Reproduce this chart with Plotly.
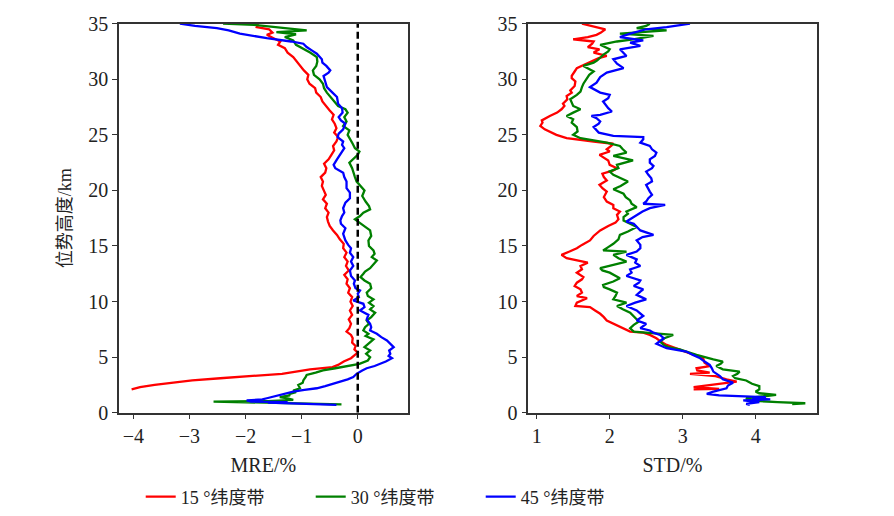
import plotly.graph_objects as go
from plotly.subplots import make_subplots

# ---- MRE (%) vs geopotential height (km) ----
h_mre15 = [2.1, 2.3, 2.5, 2.7, 2.9, 3.1, 3.3, 3.5, 3.7, 3.9, 4.1, 4.3, 4.6, 4.9, 5.2, 5.4, 5.7, 6.0, 6.3, 6.7,
           7.0, 7.3, 7.6, 8.0, 8.4, 8.8, 9.2, 9.6, 10.0, 10.4, 10.8, 11.2, 11.6, 12.0, 12.4, 12.8, 13.2, 13.6, 14.0, 14.4,
           14.8, 15.2, 15.6, 16.0, 16.4, 16.8, 17.2, 17.6, 18.0, 18.4, 18.8, 19.2, 19.6, 20.0, 20.4, 20.8, 21.2, 21.6, 22.0, 22.4,
           22.8, 23.2, 23.6, 24.0, 24.4, 24.8, 25.2, 25.6, 26.0, 26.4, 26.8, 27.2, 27.6, 28.0, 28.4, 28.8, 29.2, 29.6, 30.0, 30.4,
           30.8, 31.2, 31.6, 32.0, 32.4, 32.8, 33.1, 33.4, 33.7, 34.0, 34.2, 34.5, 34.7, 35.0]
mre15 = [-4.03, -3.88, -3.62, -3.3, -2.95, -2.45, -1.9, -1.35, -1.1, -0.85, -0.45, -0.35, -0.25, -0.12, -0.05, 0.0, -0.06, -0.04, -0.10, -0.09,
         -0.12, -0.20, -0.15, -0.12, -0.16, -0.10, -0.14, -0.09, -0.13, -0.10, -0.17, -0.14, -0.20, -0.18, -0.24, -0.16, -0.21, -0.18, -0.24, -0.20,
         -0.26, -0.25, -0.32, -0.37, -0.44, -0.50, -0.53, -0.55, -0.52, -0.58, -0.55, -0.62, -0.57, -0.60, -0.64, -0.62, -0.66, -0.58, -0.56, -0.60,
         -0.52, -0.47, -0.42, -0.44, -0.38, -0.35, -0.42, -0.38, -0.41, -0.46, -0.43, -0.50, -0.57, -0.63, -0.66, -0.74, -0.76, -0.86, -0.90, -0.88,
         -0.96, -1.02, -1.08, -1.15, -1.25, -1.30, -1.42, -1.38, -1.50, -1.62, -1.52, -1.58, -1.80, -1.78]

h_mre30 = [0.75, 0.85, 0.95, 1.0, 1.05, 1.15, 1.3, 1.4, 1.55, 1.7, 1.85, 2.0, 2.2, 2.5, 2.7, 2.9, 3.2, 3.4, 3.6, 3.8,
           4.0, 4.2, 4.4, 4.7, 5.0, 5.3, 5.6, 5.9, 6.2, 6.6, 6.9, 7.1, 7.4, 7.7, 8.0, 8.3, 8.6, 9.0, 9.3, 9.6,
           9.9, 10.2, 10.5, 10.8, 11.2, 11.6, 11.9, 12.2, 12.5, 12.7, 13.0, 13.4, 13.7, 14.0, 14.3, 14.6, 15.0, 15.5, 15.9, 16.4,
           16.8, 17.1, 17.4, 17.7, 18.0, 18.3, 18.6, 19.0, 19.5, 20.0, 20.4, 20.8, 21.2, 21.6, 22.0, 22.5, 22.9, 23.2, 23.5, 23.8,
           24.2, 24.6, 25.0, 25.4, 25.8, 26.2, 26.6, 27.0, 27.3, 27.6, 28.0, 28.4, 28.8, 29.2, 29.6, 30.0, 30.4, 30.8, 31.2, 31.6,
           32.0, 32.4, 32.8, 33.1, 33.5, 33.8, 34.05, 34.25, 34.4, 34.6, 34.75, 34.9, 35.0]
mre30 = [-0.29, -1.3, -1.9, -2.57, -1.6, -1.15, -1.25, -1.39, -1.22, -1.21, -1.10, -1.15, -1.03, -1.06, -0.98, -0.97, -0.93, -0.91, -0.75, -0.62,
         -0.40, -0.20, 0.03, 0.18, 0.22, 0.15, 0.22, 0.12, 0.19, 0.28, 0.14, 0.19, 0.10, 0.13, 0.20, 0.16, 0.24, 0.31, 0.22, 0.28,
         0.20, 0.28, 0.18, 0.16, 0.24, 0.22, 0.12, 0.05, 0.10, 0.13, 0.22, 0.28, 0.34, 0.25, 0.30, 0.28, 0.20, 0.19, 0.24, 0.22,
         0.12, 0.04, -0.05, 0.04, 0.10, 0.22, 0.20, 0.14, 0.08, 0.12, 0.05, -0.02, -0.05, -0.07, -0.10, -0.15, -0.06, 0.0, 0.03, -0.05,
         -0.09, -0.14, -0.18, -0.15, -0.26, -0.20, -0.24, -0.18, -0.22, -0.35, -0.42, -0.48, -0.55, -0.60, -0.62, -0.68, -0.78, -0.80, -0.74, -0.72,
         -0.73, -0.85, -1.0, -1.10, -1.15, -1.30, -1.10, -1.45, -0.91, -1.30, -1.55, -1.85, -2.40]

h_mre45 = [0.7, 0.8, 0.9, 0.95, 1.0, 1.1, 1.2, 1.3, 1.45, 1.6, 1.75, 1.9, 2.05, 2.2, 2.4, 2.6, 2.8, 3.0, 3.2, 3.5,
           3.8, 4.0, 4.2, 4.4, 4.6, 4.9, 5.1, 5.3, 5.6, 5.9, 6.2, 6.5, 6.8, 7.1, 7.4, 7.7, 8.0, 8.4, 8.8, 9.2,
           9.5, 9.8, 10.1, 10.4, 10.7, 11.0, 11.2, 11.6, 11.9, 12.3, 12.8, 13.2, 13.6, 14.0, 14.4, 14.8, 15.1, 15.5, 16.1, 16.6,
           17.0, 17.3, 17.7, 18.0, 18.4, 18.9, 19.3, 19.8, 20.2, 20.8, 21.2, 21.6, 22.0, 22.3, 22.8, 23.3, 23.8, 24.1, 24.4, 24.8,
           25.1, 25.5, 26.0, 26.3, 26.6, 27.0, 27.4, 27.8, 28.4, 28.8, 29.3, 29.8, 30.3, 30.6, 30.8, 31.2, 31.5, 31.8, 32.3, 32.6,
           32.9, 33.2, 33.4, 33.7, 33.9, 34.1, 34.4, 34.6, 34.8, 35.0]
mre45 = [-0.38, -1.0, -1.6, -1.25, -1.9, -1.98, -1.7, -1.62, -1.50, -1.39, -1.28, -1.15, -0.95, -0.73, -0.58, -0.44, -0.28, -0.18, -0.08, -0.02,
         0.08, 0.16, 0.30, 0.40, 0.50, 0.61, 0.55, 0.58, 0.56, 0.64, 0.58, 0.52, 0.42, 0.34, 0.22, 0.24, 0.22, 0.16, 0.19, 0.04,
         0.12, 0.10, -0.08, 0.02, 0.0, 0.04, -0.04, -0.07, -0.05, -0.12, -0.14, -0.08, -0.12, -0.08, -0.14, -0.12, -0.17, -0.22, -0.26, -0.22,
         -0.30, -0.31, -0.28, -0.24, -0.26, -0.22, -0.14, -0.14, -0.20, -0.20, -0.24, -0.26, -0.40, -0.43, -0.37, -0.31, -0.24, -0.28, -0.26, -0.36,
         -0.34, -0.26, -0.22, -0.30, -0.34, -0.27, -0.28, -0.35, -0.37, -0.45, -0.55, -0.58, -0.61, -0.52, -0.49, -0.56, -0.63, -0.64, -0.73, -0.82,
         -0.91, -0.97, -1.19, -1.62, -1.85, -2.10, -2.30, -2.51, -2.90, -3.17]

# ---- STD (%) vs geopotential height (km) ----
h_std15 = [2.1, 2.15, 2.3, 2.5, 2.6, 2.8, 3.0, 3.3, 3.5, 3.6, 3.8, 4.0, 4.2, 4.5, 4.9, 5.2, 5.5, 5.7, 6.1, 6.4,
           6.7, 7.0, 7.2, 7.3, 7.6, 7.9, 8.3, 8.6, 8.9, 9.2, 9.5, 9.6, 9.9, 10.3, 10.5, 10.8, 11.1, 11.4, 11.7, 12.0,
           12.2, 12.6, 12.9, 13.2, 13.5, 13.9, 14.2, 14.5, 14.8, 15.1, 15.5, 15.9, 16.4, 16.8, 17.1, 17.4, 17.8, 18.1, 18.4, 18.7,
           19.0, 19.4, 19.9, 20.2, 20.5, 20.9, 21.2, 21.5, 21.8, 22.0, 22.3, 22.7, 23.0, 23.2, 23.5, 23.7, 24.0, 24.2, 24.4, 24.7,
           25.0, 25.3, 25.5, 25.8, 26.1, 26.3, 26.5, 26.7, 27.0, 27.3, 27.6, 27.8, 28.2, 28.5, 28.8, 29.0, 29.4, 29.8, 30.1, 30.3,
           30.7, 31.0, 31.3, 31.6, 31.9, 32.1, 32.4, 32.7, 32.9, 33.2, 33.4, 33.6, 33.8, 34.0, 34.2, 34.5, 34.7, 35.0]
std15 = [3.15, 3.5, 3.15, 3.4, 3.47, 3.74, 3.6, 3.45, 3.10, 3.37, 3.2, 3.19, 3.37, 3.30, 3.28, 3.15, 3.05, 2.96, 2.78, 2.70,
         2.64, 2.55, 2.46, 2.28, 2.19, 2.10, 1.96, 1.92, 1.87, 1.80, 1.73, 1.53, 1.55, 1.69, 1.55, 1.62, 1.60, 1.52, 1.55, 1.62,
         1.64, 1.55, 1.62, 1.60, 1.70, 1.41, 1.34, 1.45, 1.55, 1.62, 1.73, 1.78, 1.87, 1.98, 2.08, 2.12, 2.10, 2.14, 2.05, 2.05,
         1.96, 1.92, 1.96, 1.90, 1.86, 1.96, 1.92, 1.90, 2.05, 2.10, 2.0, 1.98, 1.90, 1.86, 2.0, 1.96, 2.02, 2.05, 1.78, 1.41,
         1.27, 1.18, 1.11, 1.05, 1.08, 1.07, 1.12, 1.18, 1.28, 1.34, 1.38, 1.36, 1.42, 1.41, 1.48, 1.46, 1.52, 1.53, 1.48, 1.48,
         1.52, 1.55, 1.65, 1.74, 1.85, 1.96, 1.78, 1.86, 1.70, 1.76, 1.78, 1.50, 1.70, 1.82, 1.88, 1.94, 1.82, 1.62]

h_std30 = [0.78, 0.85, 0.95, 1.0, 1.1, 1.3, 1.45, 1.6, 1.75, 1.9, 2.1, 2.4, 2.6, 2.9, 3.1, 3.3, 3.5, 3.7, 3.9, 4.2,
           4.4, 4.6, 4.8, 5.0, 5.2, 5.5, 5.7, 5.9, 6.1, 6.4, 6.7, 7.0, 7.2, 7.3, 7.6, 7.9, 8.2, 8.4, 8.7, 9.0,
           9.3, 9.6, 9.9, 10.2, 10.5, 10.8, 11.1, 11.3, 11.5, 11.8, 12.1, 12.4, 12.6, 12.8, 13.0, 13.3, 13.6, 13.9, 14.2, 14.5,
           14.6, 14.9, 15.2, 15.6, 16.0, 16.3, 16.7, 17.0, 17.3, 17.6, 17.9, 18.1, 18.5, 18.8, 19.1, 19.4, 19.7, 20.1, 20.4, 20.8,
           21.1, 21.4, 21.7, 22.0, 22.3, 22.7, 23.1, 23.4, 23.7, 24.0, 24.3, 24.5, 24.7, 25.0, 25.3, 25.7, 26.1, 26.4, 26.7, 27.0,
           27.3, 27.6, 27.9, 28.2, 28.6, 28.9, 29.3, 29.6, 30.1, 30.4, 30.7, 31.0, 31.2, 31.5, 31.7, 32.0, 32.2, 32.5, 32.7, 33.1,
           33.4, 33.6, 33.9, 34.1, 34.4, 34.6, 34.8, 35.0]
std30 = [4.50, 4.68, 4.3, 4.14, 3.9, 3.87, 4.1, 4.28, 4.05, 4.0, 4.05, 4.05, 3.95, 3.87, 3.72, 3.69, 3.75, 3.78, 3.55, 3.46,
         3.52, 3.55, 3.42, 3.30, 3.19, 3.05, 2.96, 2.80, 2.74, 2.69, 2.75, 2.87, 2.55, 2.33, 2.28, 2.33, 2.40, 2.37, 2.32, 2.28,
         2.18, 2.10, 2.23, 2.05, 2.08, 2.10, 2.0, 1.92, 1.91, 2.05, 2.14, 2.05, 2.0, 1.90, 1.87, 2.05, 2.23, 2.12, 2.05, 2.23,
         1.91, 1.98, 2.05, 2.12, 2.14, 2.25, 2.37, 2.28, 2.19, 2.19, 2.25, 2.23, 2.37, 2.30, 2.28, 2.22, 2.19, 2.05, 2.15, 2.25,
         2.14, 2.05, 2.0, 2.12, 2.10, 2.32, 2.05, 2.23, 2.18, 2.14, 1.96, 1.75, 1.60, 1.50, 1.56, 1.55, 1.48, 1.50, 1.41, 1.50,
         1.60, 1.50, 1.48, 1.46, 1.55, 1.60, 1.62, 1.64, 1.69, 1.72, 1.78, 1.70, 1.64, 1.78, 1.83, 1.88, 1.91, 1.98, 2.0, 1.87,
         2.10, 2.32, 2.60, 2.14, 2.78, 2.37, 2.50, 2.55]

h_std45 = [0.7, 0.8, 0.95, 1.1, 1.2, 1.3, 1.4, 1.55, 1.7, 1.9, 2.2, 2.45, 2.7, 3.0, 3.3, 3.5, 3.7, 4.0, 4.3, 4.6,
           4.9, 5.2, 5.5, 5.8, 6.0, 6.2, 6.5, 6.7, 7.0, 7.2, 7.4, 7.6, 8.0, 8.3, 8.7, 9.0, 9.2, 9.6, 9.9, 10.2,
           10.6, 10.9, 11.1, 11.4, 11.7, 11.9, 12.3, 12.6, 12.9, 13.2, 13.5, 13.8, 14.2, 14.5, 14.8, 15.1, 15.5, 15.8, 16.0, 16.4,
           16.7, 17.0, 17.2, 17.5, 17.8, 18.1, 18.4, 18.7, 18.8, 19.0, 19.3, 19.6, 19.9, 20.2, 20.5, 20.8, 21.1, 21.4, 21.7, 22.0,
           22.2, 22.5, 22.8, 23.1, 23.4, 23.7, 24.0, 24.3, 24.6, 24.8, 24.9, 25.2, 25.5, 25.7, 26.0, 26.2, 26.5, 26.7, 26.8, 27.1,
           27.4, 27.6, 28.0, 28.3, 28.6, 28.8, 29.0, 29.3, 29.7, 30.0, 30.2, 30.6, 31.0, 31.4, 31.8, 32.1, 32.4, 32.7, 33.0, 33.3,
           33.5, 33.8, 34.1, 34.3, 34.5, 34.7, 34.85, 35.0]
std45 = [3.92, 3.87, 4.05, 3.83, 4.20, 3.95, 4.14, 3.50, 3.33, 3.42, 3.60, 3.62, 3.69, 3.55, 3.51, 3.46, 3.42, 3.40, 3.37, 3.30,
         3.24, 3.14, 3.05, 2.78, 2.70, 2.64, 2.70, 2.74, 2.69, 2.60, 2.55, 2.42, 2.50, 2.37, 2.46, 2.40, 2.37, 2.23, 2.35, 2.50,
         2.37, 2.42, 2.46, 2.33, 2.40, 2.42, 2.23, 2.30, 2.28, 2.42, 2.35, 2.37, 2.23, 2.37, 2.42, 2.42, 2.37, 2.45, 2.60, 2.42,
         2.38, 2.33, 2.23, 2.30, 2.37, 2.45, 2.55, 2.76, 2.46, 2.50, 2.53, 2.58, 2.55, 2.52, 2.50, 2.58, 2.57, 2.53, 2.50, 2.58,
         2.60, 2.55, 2.55, 2.62, 2.64, 2.58, 2.55, 2.42, 2.46, 2.46, 2.05, 1.85, 1.80, 1.78, 1.85, 1.87, 1.82, 1.75, 1.87, 2.03,
         1.98, 1.96, 1.91, 1.98, 2.0, 1.87, 1.82, 1.73, 1.82, 1.85, 1.87, 1.96, 2.19, 2.10, 2.05, 2.23, 2.18, 2.14, 2.42, 2.28,
         2.46, 2.14, 2.28, 2.40, 2.50, 2.78, 2.95, 3.10]

names = ['15 °纬度带', '30 °纬度带', '45 °纬度带']
colors = ['#ff0000', '#008000', '#0000ff']

serif = 'Liberation Serif, Times New Roman, Noto Sans CJK SC, serif'

fig = make_subplots(rows=1, cols=2, shared_yaxes=False)

mre_sets = [(mre15, h_mre15), (mre30, h_mre30), (mre45, h_mre45)]
std_sets = [(std15, h_std15), (std30, h_std30), (std45, h_std45)]

for i, (x, y) in enumerate(mre_sets):
    fig.add_trace(go.Scatter(x=x, y=y, mode='lines', name=names[i],
                             line=dict(color=colors[i], width=2.3),
                             legendgroup=str(i)), row=1, col=1)
for i, (x, y) in enumerate(std_sets):
    fig.add_trace(go.Scatter(x=x, y=y, mode='lines', name=names[i],
                             line=dict(color=colors[i], width=2.3),
                             legendgroup=str(i), showlegend=False), row=1, col=2)

# zero reference line on the MRE panel
fig.add_trace(go.Scatter(x=[0, 0], y=[0, 35], mode='lines', showlegend=False,
                         line=dict(color='black', width=2.5, dash='7px,4px')), row=1, col=1)

axis_style = dict(showline=True, mirror=True, linecolor='#333', linewidth=1.5,
                  ticks='outside', ticklen=5, tickcolor='#333', showgrid=False,
                  zeroline=False, automargin=False,
                  tickfont=dict(family=serif, size=20, color='#222'))

fig.update_xaxes(axis_style)
fig.update_yaxes(axis_style)

title_font = dict(family=serif, size=20, color='#222')

fig.update_layout(
    xaxis=dict(domain=[0.0858, 0.4449], range=[-4.255, 0.89], tickvals=[-4, -3, -2, -1, 0],
               title=dict(text='MRE/%', font=title_font, standoff=12)),
    xaxis2=dict(domain=[0.5949, 0.9536], range=[0.885, 4.836], tickvals=[1, 2, 3, 4],
                title=dict(text='STD/%', font=title_font, standoff=12)),
    yaxis=dict(domain=[0.0993, 0.9915], range=[0, 35], dtick=5,
               title=dict(text='位势高度/km', font=dict(family=serif, size=18, color='#222'), standoff=12)),
    yaxis2=dict(domain=[0.0993, 0.9915], range=[0, 35], dtick=5),
    legend=dict(orientation='h', x=0.43, xanchor='center', y=-0.094, yanchor='middle',
                font=dict(family=serif, size=18, color='#222'), entrywidth=125),
    plot_bgcolor='white',
    paper_bgcolor='white',
    margin=dict(l=50, r=40, t=20, b=60, autoexpand=False),
    width=894,
    height=516,
)

fig.write_html("out.html", config={'displayModeBar': False},
               post_script="document.body.style.margin='0px';")
